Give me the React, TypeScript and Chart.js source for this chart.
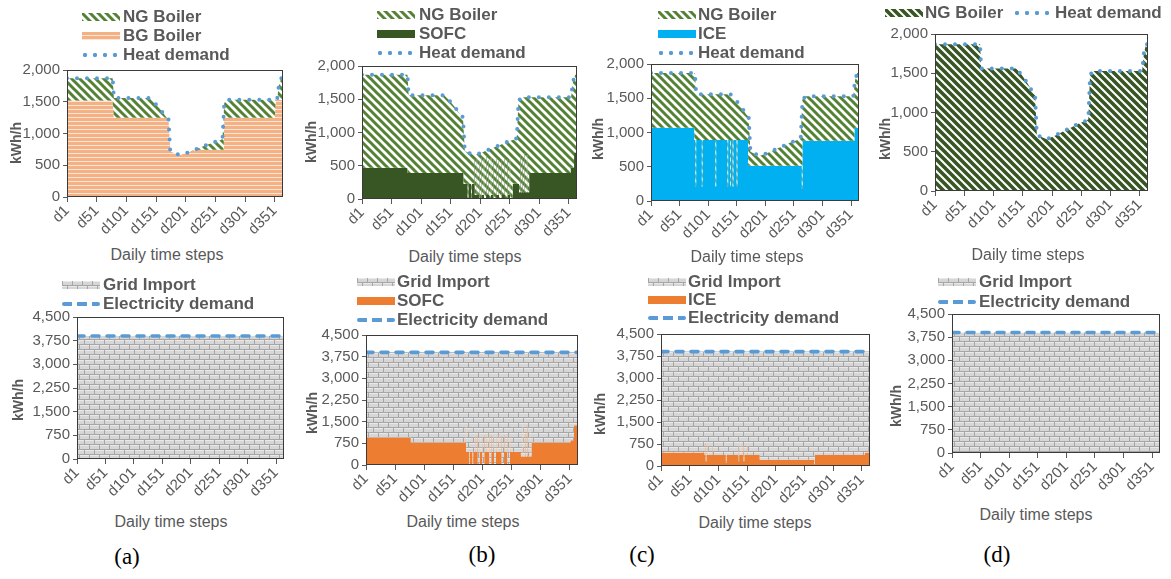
import React, { useEffect, useMemo, useRef } from 'react';
import { Chart, registerables } from 'chart.js';

Chart.register(...registerables);

type Pt = [number, number];

// ---------- axis categories / ticks ----------
const dayTicks: number[] = [1, 51, 101, 151, 201, 251, 301, 351];
const heatAxis = { max: 2000, step: 500 };
const elecAxis = { max: 4500, step: 750 };

// ---------- series (day, kWh/h) ----------
const heatDemand: Pt[] = [
  [1, 1870], [78, 1870], [80, 1560], [140, 1560], [149, 1480], [158, 1385], [168, 1260],
  [172, 1230], [175, 720], [182, 690], [192, 660], [206, 705], [219, 756], [233, 806],
  [246, 856], [260, 897], [263, 915], [266, 1480], [272, 1530], [355, 1530], [358, 1760],
  [362, 1870], [365, 1870],
];

const bgBoilerA: Pt[] = [
  [1, 1520], [78, 1520], [80, 1250], [168, 1250], [172, 1230], [175, 720], [182, 690],
  [192, 660], [206, 705], [219, 745], [265, 745], [266, 1250], [351, 1250], [353, 1530], [365, 1530],
];

const sofcHeatB: Pt[] = [
  [1, 470], [78, 390], [173, 230], [180, 20], [181, 230], [186, 20], [187, 230], [191, 600],
  [192, 60], [195, 620], [196, 60], [199, 580], [200, 0], [203, 620], [204, 60], [207, 600],
  [208, 0], [211, 630], [212, 60], [215, 590], [216, 0], [219, 620], [220, 60], [223, 600],
  [224, 0], [228, 610], [229, 60], [232, 580], [233, 0], [237, 600], [238, 60], [242, 620],
  [243, 0], [247, 590], [248, 60], [251, 600], [252, 0], [256, 230], [267, 100], [269, 680],
  [270, 100], [272, 650], [273, 100], [276, 680], [277, 100], [280, 660], [281, 100],
  [284, 390], [354, 470], [360, 700], [365, 700],
];

const iceHeatC: Pt[] = [
  [1, 1070], [77, 890], [79, 210], [80, 890], [90, 210], [91, 890], [114, 210], [115, 890],
  [135, 210], [136, 890], [140, 210], [141, 890], [144, 210], [145, 890], [151, 210],
  [152, 890], [171, 515], [265, 175], [266, 880], [357, 1070], [365, 1070],
];

const elecDemand: Pt[] = [[1, 3900], [365, 3900]];

const sofcElecB: Pt[] = [
  [1, 950], [78, 780], [172, 1375], [173, 460], [178, 0], [179, 460], [184, 0], [185, 460],
  [188, 1050], [189, 460], [192, 1000], [193, 0], [196, 1080], [197, 460], [200, 1020],
  [201, 0], [204, 1060], [205, 460], [208, 1000], [209, 460], [212, 1090], [213, 0],
  [216, 1040], [217, 460], [220, 1000], [221, 0], [224, 1060], [225, 460], [229, 1020],
  [230, 460], [233, 1000], [234, 0], [238, 1050], [239, 460], [243, 1000], [244, 0],
  [248, 1040], [249, 460], [267, 290], [270, 1375], [271, 290], [274, 1100], [275, 290],
  [278, 1375], [279, 290], [282, 1200], [283, 290], [285, 780], [352, 860], [358, 1375], [365, 1375],
];

const iceElecC: Pt[] = [
  [1, 460], [77, 375], [78, 790], [79, 150], [80, 375], [82, 790], [83, 375], [90, 700],
  [91, 375], [114, 120], [115, 375], [135, 700], [136, 150], [137, 375], [140, 790],
  [141, 375], [144, 700], [145, 150], [146, 375], [151, 700], [152, 375], [173, 210],
  [268, 60], [269, 375], [356, 460], [363, 850], [365, 850],
];

// ---------- styling ----------
const FONT = "'Liberation Sans', Arial, Helvetica, sans-serif";
const TEXT = '#595959';
const BLUE = '#5B9BD5';
const SOLIDS: Record<string, string> = { sofc: '#375623', ice: '#00B0F0', orange: '#ED7D31' };

type Kind = 'hatch' | 'hatchDark' | 'stripes' | 'sofc' | 'ice' | 'orange' | 'brick' | 'dots' | 'dash';

interface Series { kind: Kind; label: string; data: Pt[]; fill?: 'origin' | number; stepped?: boolean }
interface LegendItem { kind: Kind; label: string; x: number; y: number; tx: number }
interface Panel {
  id: string; L: number; T: number; R: number; B: number;
  axis: { max: number; step: number };
  series: Series[]; legend: LegendItem[];
  yTitle: [number, number]; xTitle: [number, number];
}

const panels: Panel[] = [
  {
    id: 'aTop', L: 67, T: 70, R: 283, B: 197, axis: heatAxis,
    series: [
      { kind: 'dots', label: 'Heat demand', data: heatDemand },
      { kind: 'hatch', label: 'NG Boiler', data: heatDemand, fill: 2 },
      { kind: 'stripes', label: 'BG Boiler', data: bgBoilerA, fill: 'origin' },
    ],
    legend: [
      { kind: 'hatch', label: 'NG Boiler', x: 82, y: 17, tx: 123 },
      { kind: 'stripes', label: 'BG Boiler', x: 82, y: 36, tx: 123 },
      { kind: 'dots', label: 'Heat demand', x: 80, y: 55, tx: 123 },
    ],
    yTitle: [16, 143], xTitle: [167, 255],
  },
  {
    id: 'bTop', L: 362, T: 66, R: 577, B: 199, axis: heatAxis,
    series: [
      { kind: 'dots', label: 'Heat demand', data: heatDemand },
      { kind: 'hatch', label: 'NG Boiler', data: heatDemand, fill: 2 },
      { kind: 'sofc', label: 'SOFC', data: sofcHeatB, fill: 'origin', stepped: true },
    ],
    legend: [
      { kind: 'hatch', label: 'NG Boiler', x: 377, y: 15, tx: 419 },
      { kind: 'sofc', label: 'SOFC', x: 377, y: 34, tx: 419 },
      { kind: 'dots', label: 'Heat demand', x: 375, y: 53, tx: 419 },
    ],
    yTitle: [311, 142], xTitle: [465, 257],
  },
  {
    id: 'cTop', L: 651, T: 64, R: 859, B: 201, axis: heatAxis,
    series: [
      { kind: 'dots', label: 'Heat demand', data: heatDemand },
      { kind: 'hatch', label: 'NG Boiler', data: heatDemand, fill: 2 },
      { kind: 'ice', label: 'ICE', data: iceHeatC, fill: 'origin', stepped: true },
    ],
    legend: [
      { kind: 'hatch', label: 'NG Boiler', x: 658, y: 15, tx: 698 },
      { kind: 'ice', label: 'ICE', x: 658, y: 34, tx: 698 },
      { kind: 'dots', label: 'Heat demand', x: 656, y: 53, tx: 698 },
    ],
    yTitle: [598, 139], xTitle: [747, 257],
  },
  {
    id: 'dTop', L: 935, T: 34, R: 1148, B: 191, axis: heatAxis,
    series: [
      { kind: 'dots', label: 'Heat demand', data: heatDemand },
      { kind: 'hatchDark', label: 'NG Boiler', data: heatDemand, fill: 'origin' },
    ],
    legend: [
      { kind: 'hatchDark', label: 'NG Boiler', x: 885, y: 13, tx: 925 },
      { kind: 'dots', label: 'Heat demand', x: 1012, y: 13, tx: 1055 },
    ],
    yTitle: [885, 139], xTitle: [1028, 255],
  },
  {
    id: 'aBot', L: 77, T: 317, R: 284, B: 459, axis: elecAxis,
    series: [
      { kind: 'dash', label: 'Electricity demand', data: elecDemand },
      { kind: 'brick', label: 'Grid Import', data: elecDemand, fill: 'origin' },
    ],
    legend: [
      { kind: 'brick', label: 'Grid Import', x: 62, y: 285, tx: 103 },
      { kind: 'dash', label: 'Electricity demand', x: 62, y: 304, tx: 103 },
    ],
    yTitle: [18, 400], xTitle: [171, 522],
  },
  {
    id: 'bBot', L: 366, T: 335, R: 578, B: 465, axis: elecAxis,
    series: [
      { kind: 'dash', label: 'Electricity demand', data: elecDemand },
      { kind: 'brick', label: 'Grid Import', data: elecDemand, fill: 2 },
      { kind: 'orange', label: 'SOFC', data: sofcElecB, fill: 'origin', stepped: true },
    ],
    legend: [
      { kind: 'brick', label: 'Grid Import', x: 357, y: 282, tx: 397 },
      { kind: 'orange', label: 'SOFC', x: 357, y: 301, tx: 397 },
      { kind: 'dash', label: 'Electricity demand', x: 357, y: 320, tx: 397 },
    ],
    yTitle: [312, 413], xTitle: [463, 522],
  },
  {
    id: 'cBot', L: 661, T: 334, R: 870, B: 466, axis: elecAxis,
    series: [
      { kind: 'dash', label: 'Electricity demand', data: elecDemand },
      { kind: 'brick', label: 'Grid Import', data: elecDemand, fill: 2 },
      { kind: 'orange', label: 'ICE', data: iceElecC, fill: 'origin', stepped: true },
    ],
    legend: [
      { kind: 'brick', label: 'Grid Import', x: 648, y: 282, tx: 688 },
      { kind: 'orange', label: 'ICE', x: 648, y: 300, tx: 688 },
      { kind: 'dash', label: 'Electricity demand', x: 648, y: 318, tx: 688 },
    ],
    yTitle: [600, 414], xTitle: [755, 523],
  },
  {
    id: 'dBot', L: 952, T: 314, R: 1160, B: 453, axis: elecAxis,
    series: [
      { kind: 'dash', label: 'Electricity demand', data: elecDemand },
      { kind: 'brick', label: 'Grid Import', data: elecDemand, fill: 'origin' },
    ],
    legend: [
      { kind: 'brick', label: 'Grid Import', x: 938, y: 282, tx: 979 },
      { kind: 'dash', label: 'Electricity demand', x: 938, y: 302, tx: 979 },
    ],
    yTitle: [896, 406], xTitle: [1036, 515],
  },
];

const captions: { text: string; x: number; y: number }[] = [
  { text: '(a)', x: 127, y: 557 },
  { text: '(b)', x: 482, y: 555 },
  { text: '(c)', x: 642, y: 555 },
  { text: '(d)', x: 997, y: 555 },
];

// ---------- pattern tiles ----------
type Tiles = Record<string, HTMLCanvasElement>;

function buildTiles(): Tiles {
  const mk = (w: number, h: number, draw: (g: CanvasRenderingContext2D) => void) => {
    const c = document.createElement('canvas');
    c.width = w; c.height = h;
    draw(c.getContext('2d') as CanvasRenderingContext2D);
    return c;
  };
  const hatch = (color: string, lw: number) => mk(8, 8, (g) => {
    g.fillStyle = '#ffffff'; g.fillRect(0, 0, 8, 8);
    g.strokeStyle = color; g.lineWidth = lw; g.lineCap = 'square';
    g.beginPath();
    for (const o of [-8, 0, 8]) { g.moveTo(o - 2, -2); g.lineTo(o + 10, 10); }
    g.stroke();
  });
  return {
    hatch: hatch('#548235', 3),
    hatchDark: hatch('#375623', 3.6),
    stripes: mk(4, 4, (g) => {
      g.fillStyle = '#F4B183'; g.fillRect(0, 0, 4, 4);
      g.fillStyle = '#FCE4D6'; g.fillRect(0, 3, 4, 1);
    }),
    brick: mk(10, 10, (g) => {
      g.fillStyle = '#D6D6D6'; g.fillRect(0, 0, 10, 10);
      g.fillStyle = '#E9E9E9'; g.fillRect(1, 0, 9, 1); g.fillRect(0, 5, 5, 1); g.fillRect(6, 5, 4, 1);
      g.fillStyle = '#A6A6A6';
      g.fillRect(0, 4, 10, 1); g.fillRect(0, 9, 10, 1);
      g.fillRect(0, 0, 1, 4); g.fillRect(5, 5, 1, 4);
    }),
  };
}

// ---------- chart geometry ----------
const AX_W = 48;
const AX_H = 48;
const PAD_T = 12;
const PAD_R = 10;

const boxPlugin = {
  id: 'plotBox',
  afterDatasetsDraw(chart: any) {
    const { ctx, chartArea: a } = chart;
    ctx.save();
    ctx.strokeStyle = '#3a3a3a';
    ctx.lineWidth = 1;
    ctx.strokeRect(Math.round(a.left) + 0.5, Math.round(a.top) + 0.5, Math.round(a.right - a.left) - 1, Math.round(a.bottom - a.top) - 1);
    ctx.restore();
  },
};

function PanelChart({ p, tiles }: { p: Panel; tiles: Tiles }) {
  const ref = useRef<HTMLCanvasElement | null>(null);
  const cx = p.L - AX_W;
  const cy = p.T - PAD_T;
  const w = p.R + PAD_R - cx;
  const h = p.B + AX_H - cy;

  useEffect(() => {
    const canvas = ref.current;
    if (!canvas) return;
    const ctx = canvas.getContext('2d') as CanvasRenderingContext2D;
    const datasets = p.series.map((s) => {
      const base: any = {
        label: s.label,
        data: s.data.map(([x, y]) => ({ x, y })),
        pointRadius: 0,
        pointHoverRadius: 0,
        tension: 0,
        stepped: s.stepped ? true : false,
      };
      if (s.kind === 'dots') {
        return { ...base, borderColor: BLUE, borderWidth: 4, borderDash: [0, 10], borderCapStyle: 'round', borderJoinStyle: 'round', fill: false, backgroundColor: 'rgba(0,0,0,0)' };
      }
      if (s.kind === 'dash') {
        return { ...base, borderColor: BLUE, borderWidth: 3.6, borderDash: [7, 8], borderCapStyle: 'round', fill: false, backgroundColor: 'rgba(0,0,0,0)' };
      }
      const bg = SOLIDS[s.kind] ? SOLIDS[s.kind] : ctx.createPattern(tiles[s.kind], 'repeat');
      return { ...base, borderColor: 'rgba(0,0,0,0)', borderWidth: 0, backgroundColor: bg, fill: s.fill ?? 'origin' };
    });

    const tickFont = { family: FONT, size: 15 };
    const chart = new Chart(canvas, {
      type: 'line',
      data: { datasets } as any,
      options: {
        animation: false,
        responsive: false,
        maintainAspectRatio: false,
        devicePixelRatio: 1,
        events: [],
        layout: { padding: { left: 0, top: PAD_T, right: PAD_R, bottom: 0 } },
        plugins: { legend: { display: false }, tooltip: { enabled: false }, title: { display: false } },
        scales: {
          x: {
            type: 'linear', min: 1, max: 365,
            border: { display: false },
            grid: { drawOnChartArea: false, drawTicks: true, tickLength: 5, color: '#595959' },
            ticks: {
              autoSkip: false, minRotation: 45, maxRotation: 45, padding: 0,
              color: TEXT, font: tickFont,
              callback: (v: any) => 'd' + v,
            },
            afterBuildTicks: (sc: any) => { sc.ticks = dayTicks.map((v) => ({ value: v })); },
            afterFit: (sc: any) => { sc.height = AX_H; },
          },
          y: {
            min: 0, max: p.axis.max,
            border: { display: false },
            grid: { drawOnChartArea: false, drawTicks: true, tickLength: 4, color: '#595959' },
            ticks: {
              stepSize: p.axis.step, padding: 3, color: TEXT, font: tickFont,
              callback: (v: any) => Number(v).toLocaleString('en-US'),
            },
            afterFit: (sc: any) => { sc.width = AX_W; },
          },
        },
      } as any,
      plugins: [boxPlugin],
    });
    return () => chart.destroy();
  }, [p, tiles]);

  return (
    <canvas
      ref={ref}
      width={w}
      height={h}
      style={{ position: 'absolute', left: cx, top: cy, width: w, height: h }}
    />
  );
}

function swatchStyle(kind: Kind, tiles: Tiles): React.CSSProperties {
  if (kind === 'dots') {
    return {
      width: 40, height: 6,
      backgroundImage: `radial-gradient(circle, ${BLUE} 0px, ${BLUE} 1.8px, rgba(91,155,213,0) 2.5px)`,
      backgroundSize: '10px 6px', backgroundRepeat: 'repeat-x',
    };
  }
  if (kind === 'dash') {
    return {
      width: 38, height: 4, borderRadius: 2,
      backgroundImage: `repeating-linear-gradient(to right, ${BLUE} 0px, ${BLUE} 10px, rgba(0,0,0,0) 10px, rgba(0,0,0,0) 15px)`,
    };
  }
  if (SOLIDS[kind]) return { width: 38, height: 8, background: SOLIDS[kind] };
  return { width: 38, height: 8, backgroundImage: `url(${tiles[kind].toDataURL()})`, backgroundRepeat: 'repeat' };
}

export default function App() {
  const tiles = useMemo(buildTiles, []);
  return (
    <div style={{ position: 'absolute', left: 0, top: 0, width: 1171, height: 579, background: '#ffffff', overflow: 'hidden', fontFamily: FONT }}>
      {panels.map((p) => <PanelChart key={p.id} p={p} tiles={tiles} />)}
      {panels.map((p) => (
        <React.Fragment key={p.id + '-txt'}>
          {p.legend.map((it, i) => {
            const st = swatchStyle(it.kind, tiles);
            return (
              <React.Fragment key={i}>
                <div style={{ position: 'absolute', left: it.x, top: it.y - (st.height as number) / 2, ...st }} />
                <div style={{ position: 'absolute', left: it.tx, top: it.y - 11, lineHeight: '22px', fontSize: 17, fontWeight: 'bold', color: TEXT, whiteSpace: 'nowrap' }}>{it.label}</div>
              </React.Fragment>
            );
          })}
          <div style={{ position: 'absolute', left: p.yTitle[0], top: p.yTitle[1], transform: 'translate(-50%, -50%) rotate(-90deg)', fontSize: 14, fontWeight: 'bold', color: TEXT, whiteSpace: 'nowrap' }}>kWh/h</div>
          <div style={{ position: 'absolute', left: p.xTitle[0], top: p.xTitle[1], transform: 'translate(-50%, -50%)', fontSize: 16, color: TEXT, whiteSpace: 'nowrap' }}>Daily time steps</div>
        </React.Fragment>
      ))}
      {captions.map((c) => (
        <div key={c.text} style={{ position: 'absolute', left: c.x, top: c.y, transform: 'translate(-50%, -50%)', fontFamily: "'Liberation Serif', 'Times New Roman', serif", fontSize: 23, color: '#000', whiteSpace: 'nowrap' }}>{c.text}</div>
      ))}
    </div>
  );
}
